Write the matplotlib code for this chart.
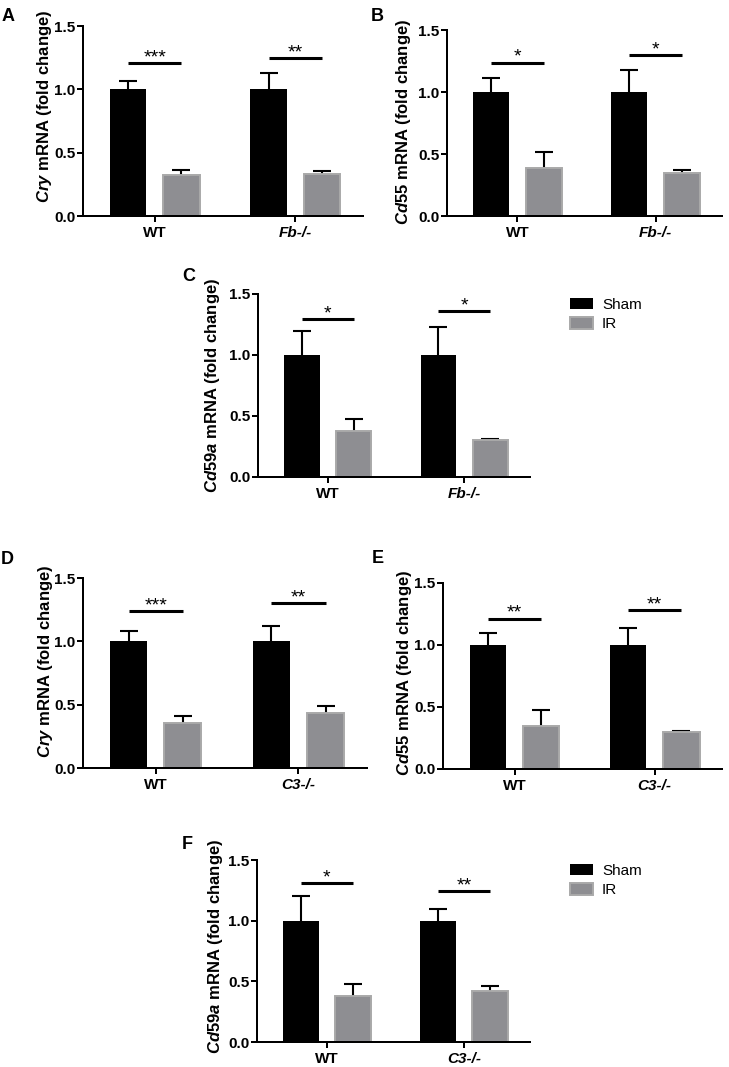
import matplotlib
matplotlib.use("Agg")
import matplotlib.pyplot as plt
import numpy as np

plt.rcParams['font.family'] = ['Liberation Sans', 'DejaVu Sans']
plt.rcParams['mathtext.fontset'] = 'custom'
plt.rcParams['mathtext.it'] = 'Liberation Sans:italic:bold'
plt.rcParams['mathtext.rm'] = 'Liberation Sans:bold'

W, H = 729, 1067
shamColor = "black"
irColor = "#8e8e92"
irEdge = "#a9a9a9"

groupsFb = ["WT", "Fb-/-"]
groupsC3 = ["WT", "C3-/-"]

# panel data: sham mean, sham err, IR mean, IR err, stars, star-line height
shamA = [1.0, 1.0]; shamErrA = [0.065, 0.13]
irA = [0.32, 0.33]; irErrA = [0.04, 0.025]
starsA = ["***", "**"]; sigYA = [1.21, 1.245]

shamB = [1.0, 1.0]; shamErrB = [0.11, 0.175]
irB = [0.385, 0.35]; irErrB = [0.13, 0.025]
starsB = ["*", "*"]; sigYB = [1.237, 1.295]

shamC = [1.0, 1.0]; shamErrC = [0.20, 0.23]
irC = [0.378, 0.30]; irErrC = [0.095, 0.01]
starsC = ["*", "*"]; sigYC = [1.297, 1.36]

shamD = [1.0, 1.0]; shamErrD = [0.085, 0.125]
irD = [0.355, 0.433]; irErrD = [0.053, 0.053]
starsD = ["***", "**"]; sigYD = [1.242, 1.30]

shamE = [1.0, 1.0]; shamErrE = [0.10, 0.135]
irE = [0.343, 0.295]; irErrE = [0.13, 0.01]
starsE = ["**", "**"]; sigYE = [1.213, 1.28]

shamF = [1.0, 1.0]; shamErrF = [0.20, 0.10]
irF = [0.38, 0.42]; irErrF = [0.095, 0.042]
starsF = ["*", "**"]; sigYF = [1.307, 1.244]

yTicks = [0.0, 0.5, 1.0, 1.5]
yTickLabels = ["0.0", "0.5", "1.0", "1.5"]

fig = plt.figure(figsize=(W / 100, H / 100), dpi=100)


def pxAxes(left, right, top, bottom):
    return fig.add_axes([left / W, 1 - bottom / H, (right - left) / W, (bottom - top) / H])


def upperError(ax, xs, means, errs):
    # one-sided (upper) error bar: stem plus a cap on top only
    tops = np.array(means) + np.array(errs)
    ax.vlines(xs, means, tops, color='black', lw=1.5, zorder=1)
    ax.plot(xs, tops, ls='none', marker='_', ms=13.6, mew=1.5, color='black', zorder=1)


def drawPanel(box, groups, sham, shamErr, ir, irErr, stars, sigY, gene, labelXY, letter, letterXY):
    ax = pxAxes(*box)
    x = np.arange(len(groups))
    off = 0.19
    width = 0.26
    ax.bar(x - off, sham, width, color=shamColor, edgecolor=shamColor, linewidth=0, label="Sham", zorder=2)
    ax.bar(x + off, ir, width, color=irColor, edgecolor=irEdge, linewidth=1.4, label="IR", zorder=2)
    upperError(ax, x - off, sham, shamErr)
    upperError(ax, x + off, ir, irErr)
    for i in range(len(groups)):
        ax.plot([x[i] - off, x[i] + off], [sigY[i], sigY[i]], color='black', lw=2.2,
                solid_capstyle='butt', clip_on=False)
        ax.annotate(stars[i], (x[i], sigY[i]), xytext=(0, 0.5), textcoords='offset points',
                    ha='center', va='baseline', fontsize=14, annotation_clip=False)

    ax.set_xlim(-0.51, 1.48)
    ax.set_ylim(0, 1.5)
    ax.set_yticks(yTicks)
    ax.set_yticklabels(yTickLabels)
    ax.set_xticks(x)
    ax.set_xticklabels(groups)
    ax.get_xticklabels()[1].set_style('italic')
    for lab in ax.get_xticklabels() + ax.get_yticklabels():
        lab.set_fontweight('bold')
    ax.tick_params(axis='both', length=4.3, width=1.44, labelsize=11, pad=1)
    ax.tick_params(axis='x', pad=3)
    for side in ['top', 'right']:
        ax.spines[side].set_visible(False)
    for side in ['left', 'bottom']:
        ax.spines[side].set_linewidth(1.44)

    ax.set_ylabel(r"$\mathit{" + gene + r"}$ mRNA (fold change)", fontsize=12, fontweight='bold', va='center')
    ax.yaxis.set_label_coords(labelXY[0] / W, 1 - labelXY[1] / H, transform=fig.transFigure)

    fig.text(letterXY[0] / W, 1 - letterXY[1] / H, letter, fontsize=13, fontweight='bold',
             ha='left', va='top')
    return ax


axA = drawPanel((83, 363, 26, 216), groupsFb, shamA, shamErrA, irA, irErrA, starsA, sigYA,
                "Cry", (45, 106), "A", (2, 8))
axB = drawPanel((447, 722, 30, 216), groupsFb, shamB, shamErrB, irB, irErrB, starsB, sigYB,
                "Cd55", (404, 122), "B", (371, 8))
axC = drawPanel((258, 530, 294, 477), groupsFb, shamC, shamErrC, irC, irErrC, starsC, sigYC,
                "Cd59a", (212, 385), "C", (182, 268))
axD = drawPanel((83, 367, 578, 768), groupsC3, shamD, shamErrD, irD, irErrD, starsD, sigYD,
                "Cry", (46, 661), "D", (1, 551))
axE = drawPanel((443, 722, 583, 769), groupsC3, shamE, shamErrE, irE, irErrE, starsE, sigYE,
                "Cd55", (405, 673), "E", (372, 550))
axF = drawPanel((257, 530, 860, 1042), groupsC3, shamF, shamErrF, irF, irErrF, starsF, sigYF,
                "Cd59a", (215, 946), "F", (182, 836))

for ax, top in [(axC, 298), (axF, 864)]:
    ax.legend(loc='upper left', bbox_to_anchor=(570 / W, 1 - top / H), bbox_transform=fig.transFigure,
              frameon=False, fontsize=11, handlelength=1.5, handleheight=0.78, handletextpad=0.6,
              labelspacing=0.35, borderpad=0, borderaxespad=0)

fig.savefig("out.png", dpi=100)
